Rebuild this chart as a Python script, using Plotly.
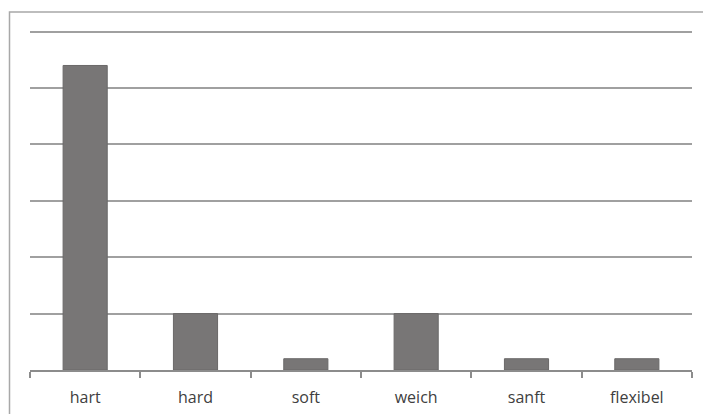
import plotly.graph_objects as go

# Response counts per word
categories = ["hart", "hard", "soft", "weich", "sanft", "flexibel"]
counts = [27, 5, 1, 5, 1, 1]

W, H = 703, 414
ml, mr, mt, mb = 30, 11, 26, 44
pw, ph = W - ml - mr, H - mt - mb

fig = go.Figure(
    go.Bar(
        x=categories,
        y=counts,
        width=0.4,
        marker=dict(color="#787676", line=dict(color="#6a6868", width=1)),
        hoverinfo="x+y",
    )
)

# frame along the left and top edges of the chart area
fx = (9.5 - ml) / pw
fy = 1 + (mt - 12) / ph
fx_end = (W - ml) / pw
fy_end = -mb / ph
fig.add_shape(type="path", xref="paper", yref="paper",
              path=f"M {fx},{fy_end} L {fx},{fy} L {fx_end},{fy}",
              line=dict(color="#a8a8a8", width=1.5))

fig.update_layout(
    width=W, height=H,
    margin=dict(l=ml, r=mr, t=mt, b=mb, autoexpand=False),
    paper_bgcolor="white",
    plot_bgcolor="white",
    showlegend=False,
    bargap=0.6,
    xaxis=dict(
        type="category",
        automargin=False,
        tickson="boundaries",
        ticks="outside",
        ticklen=6,
        tickwidth=1.5,
        tickcolor="#8c8c8c",
        showline=True,
        linecolor="#8c8c8c",
        linewidth=1.5,
        showgrid=False,
        ticklabelstandoff=12,
        tickfont=dict(family="Open Sans", size=16, color="#404040"),
    ),
    yaxis=dict(
        range=[0, 30.5],
        dtick=5,
        automargin=False,
        showticklabels=False,
        showgrid=True,
        gridcolor="#a0a0a0",
        gridwidth=1.5,
        zeroline=False,
        showline=False,
        ticks="",
    ),
)

fig.write_html("out.html")
